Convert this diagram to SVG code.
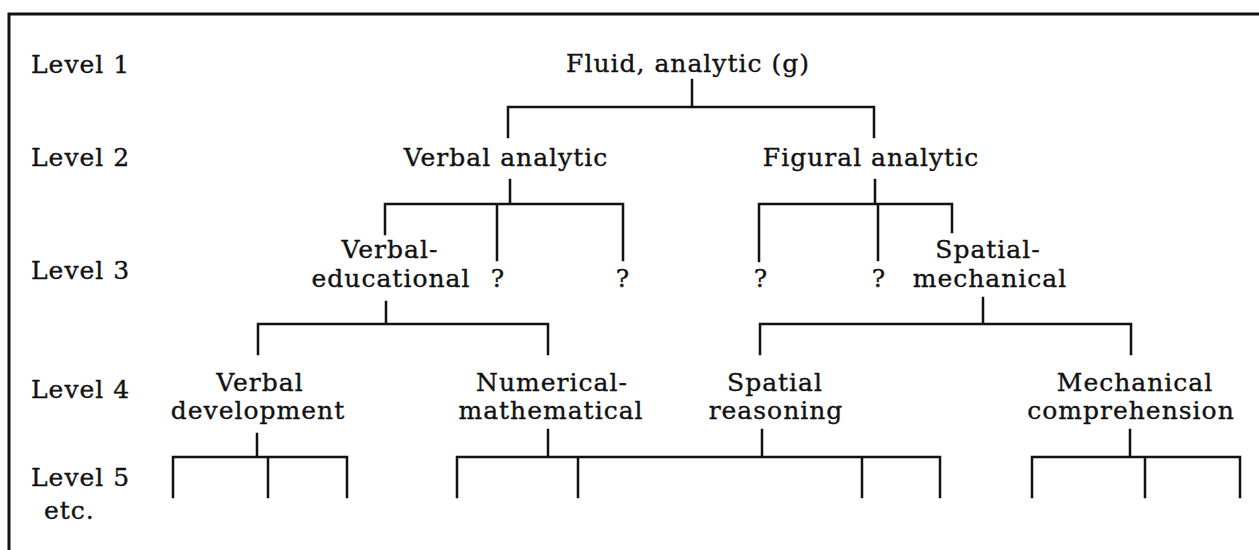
<svg xmlns="http://www.w3.org/2000/svg" width="1259" height="550" viewBox="0 0 1259 550">
<style>
text{font-family:"DejaVu Serif","Liberation Serif",serif;font-size:25px;letter-spacing:1px;fill:#111;stroke:#111;stroke-width:0.35;text-anchor:middle}
.s{text-anchor:start}
.ln{stroke:#111;stroke-width:2.5;fill:none;stroke-linecap:square}
</style>
<rect width="1259" height="550" fill="#fff"/>
<g id="frame" class="ln"><path d="M9 550V14H1259" stroke-width="3"/></g>
<g id="levels">
<text class="s" x="31" y="73">Level 1</text>
<text class="s" x="31" y="166">Level 2</text>
<text class="s" x="31" y="279">Level 3</text>
<text class="s" x="31" y="398">Level 4</text>
<text class="s" x="31" y="486">Level 5</text>
<text class="s" x="44" y="519">etc.</text>
</g>
<g id="n-fluid"><text x="688" y="72">Fluid, analytic (g)</text></g>
<g id="n-verbal-analytic"><text x="506" y="166">Verbal analytic</text></g>
<g id="n-figural-analytic"><text x="871" y="166">Figural analytic</text></g>
<g id="n-verbal-educational"><text x="390" y="258">Verbal-</text><text x="391" y="287">educational</text></g>
<g id="n-q1"><text x="498" y="287">?</text></g>
<g id="n-q2"><text x="623" y="287">?</text></g>
<g id="n-q3"><text x="761" y="287">?</text></g>
<g id="n-q4"><text x="879" y="287">?</text></g>
<g id="n-spatial-mechanical"><text x="988" y="258">Spatial-</text><text x="990" y="287">mechanical</text></g>
<g id="n-verbal-development"><text x="260" y="391">Verbal</text><text x="258" y="419">development</text></g>
<g id="n-numerical"><text x="552" y="391">Numerical-</text><text x="551" y="419">mathematical</text></g>
<g id="n-spatial-reasoning"><text x="775" y="391">Spatial</text><text x="776" y="419">reasoning</text></g>
<g id="n-mechanical"><text x="1135" y="391">Mechanical</text><text x="1131" y="419">comprehension</text></g>
<g id="connectors" class="ln">
<path d="M692 80V107M508 137V107H874V137"/>
<path d="M510 180V204M385 234V204H623V260M497 204V260"/>
<path d="M875 180V204M759 261V204H952V232M878 204V260"/>
<path d="M386 302V324M258 354V324H548V354"/>
<path d="M983 298V324M760 354V324H1131V354"/>
<path d="M257 434V457M173 497V457H347V497M268 457V497"/>
<path d="M548 430V457M762 430V457M457 497V457H940V497M578 457V497M862 457V497"/>
<path d="M1130 430V457M1032 497V457H1240V497M1145 457V497"/>
</g>
</svg>
